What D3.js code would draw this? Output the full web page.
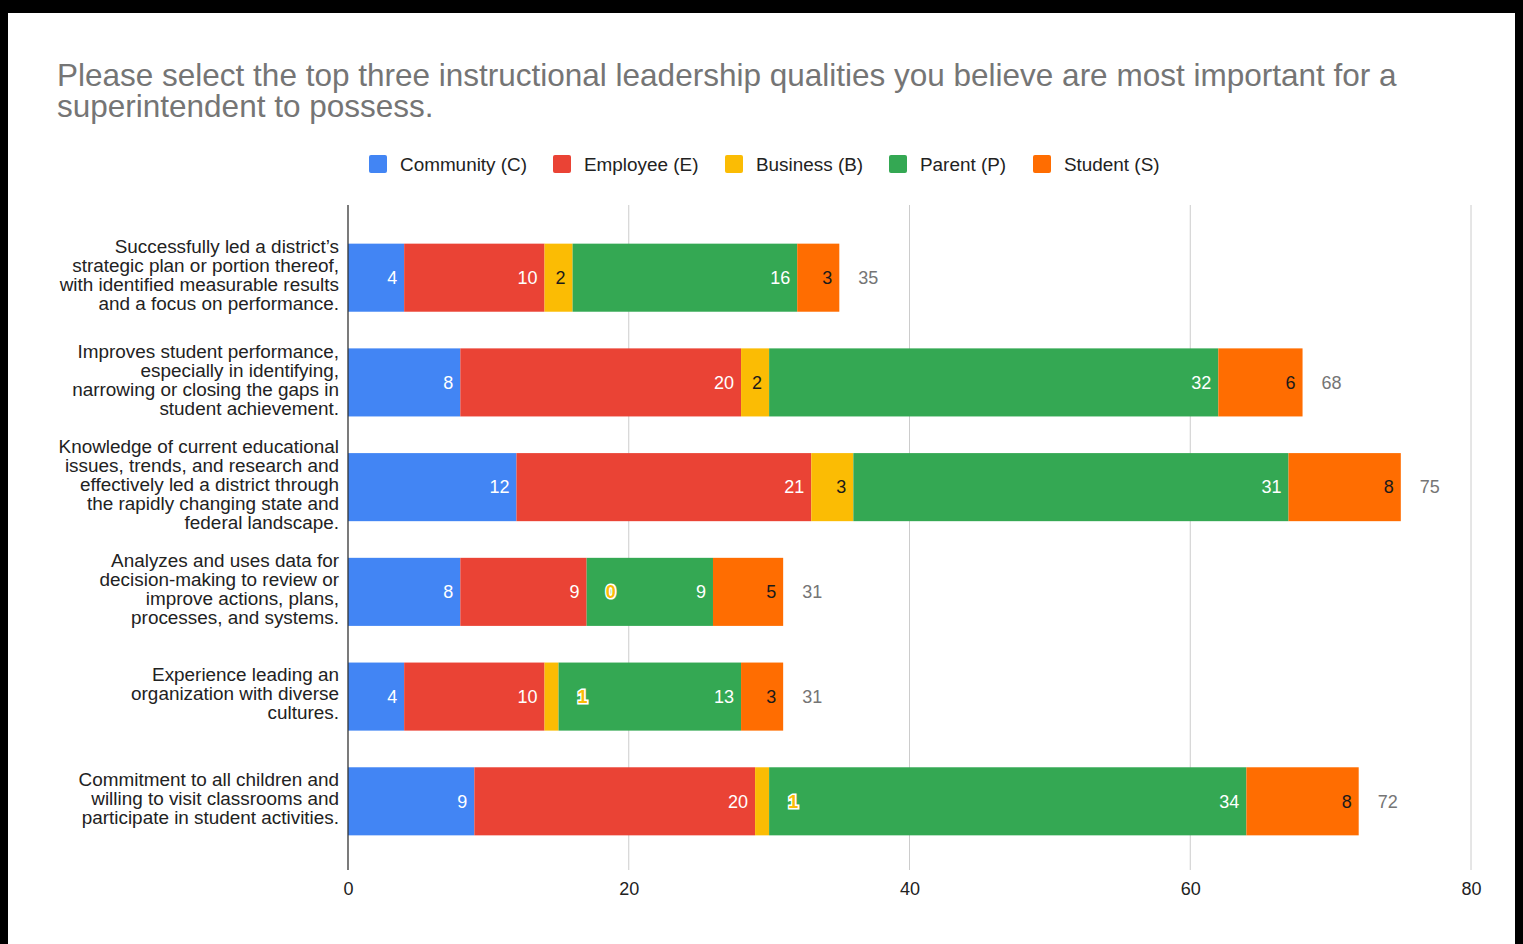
<!DOCTYPE html>
<html>
<head>
<meta charset="utf-8">
<script src="https://cdn.jsdelivr.net/npm/d3@7/dist/d3.min.js"></script>
<style>
  html, body { margin: 0; padding: 0; background: #fff; }
  svg { display: block; font-family: "Liberation Sans", Arial, Helvetica, sans-serif; }
</style>
</head>
<body>
<svg id="chart" width="1523" height="944"></svg>
<script>
// Survey responses per leadership quality, split by respondent group
const categories = [
  ["Successfully led a district\u2019s", "strategic plan or portion thereof,", "with identified measurable results", "and a focus on performance."],
  ["Improves student performance,", "especially in identifying,", "narrowing or closing the gaps in", "student achievement."],
  ["Knowledge of current educational", "issues, trends, and research and", "effectively led a district through", "the rapidly changing state and", "federal landscape."],
  ["Analyzes and uses data for", "decision-making to review or", "improve actions, plans,", "processes, and systems."],
  ["Experience leading an", "organization with diverse", "cultures."],
  ["Commitment to all children and", "willing to visit classrooms and", "participate in student activities."]
];
const seriesNames = ["Community (C)", "Employee (E)", "Business (B)", "Parent (P)", "Student (S)"];
const community = [4, 8, 12, 8, 4, 9];
const employee  = [10, 20, 21, 9, 10, 20];
const business  = [2, 2, 3, 0, 1, 1];
const parent    = [16, 32, 31, 9, 13, 34];
const student   = [3, 6, 8, 5, 3, 8];
const xTicks = [0, 20, 40, 60, 80];
const title = [
  "Please select the top three instructional leadership qualities you believe are most important for a",
  "superintendent to possess."
];

const colors = ["#4285f4", "#ea4335", "#fbbc04", "#34a853", "#ff6d01"];
const labelColors = ["#ffffff", "#ffffff", "#1a1a1a", "#ffffff", "#1a1a1a"];

const svg = d3.select("#chart");
const W = 1523, H = 944;

// black frame
svg.append("rect").attr("x", 0).attr("y", 0).attr("width", W).attr("height", H).attr("fill", "#000");
svg.append("rect").attr("x", 8).attr("y", 13).attr("width", 1507).attr("height", H).attr("fill", "#fff");

// title
svg.append("g").selectAll("text").data(title).join("text")
  .attr("x", 57).attr("y", (d, i) => 86 + i * 31)
  .attr("fill", "#757575").attr("font-size", 31.5)
  .text(d => d);

// legend
const legendX = [369, 553, 725, 889, 1033];
const lg = svg.append("g").selectAll("g").data(seriesNames).join("g")
  .attr("transform", (d, i) => `translate(${legendX[i]},155)`);
lg.append("rect").attr("width", 18).attr("height", 18).attr("rx", 2).attr("fill", (d, i) => colors[i]);
lg.append("text").attr("x", 31).attr("y", 9).attr("dy", "0.35em")
  .attr("font-size", 18.9).attr("fill", "#222").text(d => d);

// scales
const x = d3.scaleLinear().domain([0, 80]).range([348, 1471]);
const y = d3.scaleBand().domain(d3.range(categories.length)).range([207, 872])
  .paddingInner(0.35).paddingOuter(0.35);

// gridlines
svg.append("g").selectAll("line").data(xTicks.filter(t => t > 0)).join("line")
  .attr("x1", d => x(d)).attr("x2", d => x(d)).attr("y1", 205).attr("y2", 870)
  .attr("stroke", "#cccccc").attr("stroke-width", 1);

// stacked data
const rows = categories.map((c, i) => ({
  i, values: [community[i], employee[i], business[i], parent[i], student[i]]
}));
const keys = d3.range(seriesNames.length);
const stack = d3.stack().keys(keys).value((d, k) => d.values[k]);
const stacked = stack(rows);

const layers = svg.append("g").selectAll("g").data(stacked).join("g")
  .attr("fill", (d, k) => colors[k]);
layers.selectAll("rect").data(d => d).join("rect")
  .attr("x", d => x(d[0]))
  .attr("y", d => y(d.data.i))
  .attr("width", d => x(d[1]) - x(d[0]))
  .attr("height", y.bandwidth());

// segment value labels
const labels = svg.append("g").attr("font-size", 18);
stacked.forEach((layer, k) => {
  layer.forEach(d => {
    const v = d.data.values[k];
    const w = x(d[1]) - x(d[0]);
    const cy = y(d.data.i) + y.bandwidth() / 2;
    const t = labels.append("text").attr("y", cy).attr("dy", "0.35em").text(v);
    if (w >= 20) {
      t.attr("x", x(d[1]) - 7).attr("text-anchor", "end").attr("fill", labelColors[k]);
    } else {
      // too narrow: place just past the segment, outlined
      t.attr("x", x(d[1]) + 19).attr("text-anchor", "start")
        .attr("fill", colors[k]).attr("stroke", "#ffffff").attr("stroke-width", 3)
        .attr("paint-order", "stroke").attr("font-weight", "bold");
    }
  });
});

// totals
const last = stacked[stacked.length - 1];
svg.append("g").selectAll("text").data(last).join("text")
  .attr("x", d => x(d[1]) + 19)
  .attr("y", d => y(d.data.i) + y.bandwidth() / 2)
  .attr("dy", "0.35em").attr("font-size", 18).attr("fill", "#757575")
  .text(d => d[1]);

// category labels
const cat = svg.append("g").selectAll("text").data(categories).join("text")
  .attr("text-anchor", "end").attr("font-size", 18.9).attr("fill", "#222");
cat.each(function(lines, i) {
  const cy = y(i) + y.bandwidth() / 2;
  const lh = 19;
  const y0 = cy - (lines.length - 1) * lh / 2;
  d3.select(this).selectAll("tspan").data(lines).join("tspan")
    .attr("x", 339).attr("y", (d, j) => y0 + j * lh - 3).attr("dy", "0.35em").text(d => d);
});

// baseline axis
svg.append("line").attr("x1", x(0)).attr("x2", x(0)).attr("y1", 205).attr("y2", 870)
  .attr("stroke", "#333").attr("stroke-width", 1.3);

// x tick labels
const xAxis = d3.axisBottom(x).tickValues(xTicks).tickSize(0).tickPadding(0);
const ax = svg.append("g").attr("transform", "translate(0,882)").call(xAxis);
ax.select(".domain").remove();
ax.selectAll("text").attr("font-size", 18).attr("fill", "#222")
  .attr("font-family", "\"Liberation Sans\", Arial, sans-serif");
</script>
</body>
</html>
